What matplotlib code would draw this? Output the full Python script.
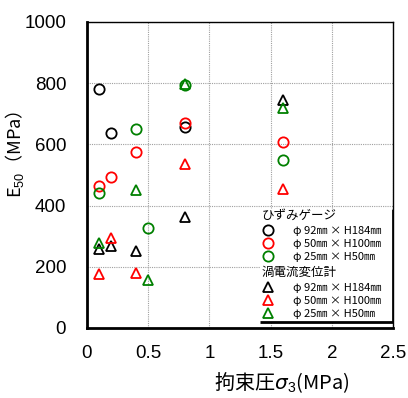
import matplotlib
matplotlib.use("Agg")
import matplotlib.pyplot as plt
from matplotlib.lines import Line2D
from matplotlib.patches import Rectangle

JP = ["Noto Sans CJK JP", "DejaVu Sans"]
plt.rcParams["mathtext.fontset"] = "custom"
plt.rcParams["mathtext.rm"] = "Liberation Sans"
plt.rcParams["mathtext.it"] = "DejaVu Sans:italic"

# Confining pressure (MPa) and E50 (MPa) per specimen size
# strain gauge
gauge_92_x = [0.1, 0.2, 0.8]
gauge_92_y = [780, 636, 656]
gauge_50_x = [0.1, 0.2, 0.4, 0.8, 1.6]
gauge_50_y = [464, 492, 576, 669, 609]
gauge_25_x = [0.1, 0.4, 0.5, 0.8, 1.6]
gauge_25_y = [440, 650, 326, 795, 549]
# eddy-current displacement sensor
eddy_92_x = [0.1, 0.2, 0.4, 0.8, 1.6]
eddy_92_y = [257, 268, 252, 364, 745]
eddy_50_x = [0.1, 0.2, 0.4, 0.8, 1.6]
eddy_50_y = [176, 293, 181, 535, 453]
eddy_25_x = [0.1, 0.4, 0.5, 0.8, 1.6]
eddy_25_y = [277, 450, 157, 797, 718]

labels = ["φ 92㎜ × H184㎜", "φ 50㎜ × H100㎜", "φ 25㎜ × H50㎜"]
colors = ["black", "#ff0000", "#008000"]
x_ticks = [0, 0.5, 1, 1.5, 2, 2.5]
y_ticks = [0, 200, 400, 600, 800, 1000]

fig = plt.figure(figsize=(4.08, 3.98), dpi=100)
ax = fig.add_axes([87 / 408, 1 - 328 / 398, 306 / 408, 306 / 398])

ms = 7.4
mew = 1.3
gauge_series = [(gauge_92_x, gauge_92_y), (gauge_50_x, gauge_50_y), (gauge_25_x, gauge_25_y)]
eddy_series = [(eddy_92_x, eddy_92_y), (eddy_50_x, eddy_50_y), (eddy_25_x, eddy_25_y)]
gauge_handles = []
eddy_handles = []
for (xs, ys), c, lab in zip(gauge_series, colors, labels):
    h, = ax.plot(xs, ys, ls="none", marker="o", ms=ms, mfc="none", mec=c, mew=mew,
                 label=lab, zorder=3)
    gauge_handles.append(h)
for (xs, ys), c, lab in zip(eddy_series, colors, labels):
    h, = ax.plot(xs, ys, ls="none", marker="^", ms=ms, mfc="none", mec=c, mew=mew,
                 label=lab, zorder=3)
    eddy_handles.append(h)

ax.set_xlim(0, 2.5)
ax.set_ylim(0, 1000)
ax.set_xticks(x_ticks)
ax.set_xticklabels([f"{v:g}" for v in x_ticks])
ax.set_yticks(y_ticks)
ax.set_yticklabels([str(v) for v in y_ticks])
ax.tick_params(length=0, labelsize=13.5)
ax.tick_params(axis="y", pad=15)
ax.tick_params(axis="x", pad=12)
for t in ax.get_xticklabels() + ax.get_yticklabels():
    t.set_fontfamily("Liberation Sans")

ax.grid(True, color="#a0a0a0", ls=(0, (1, 1)), lw=0.8)
ax.set_axisbelow(True)
for side in ["left", "bottom"]:
    ax.spines[side].set_linewidth(2)
for side in ["top", "right"]:
    ax.spines[side].set_linewidth(1)

# legend background with a heavy bottom/right edge
x0, x1, y0, y1 = 0.565, 1.0, 0.02, 0.39
ax.add_patch(Rectangle((x0, y0), x1 - x0, y1 - y0, transform=ax.transAxes,
                       facecolor="white", edgecolor="none", zorder=4))
ax.add_line(Line2D([x0, x1, x1], [y0, y0, y1], transform=ax.transAxes,
                   color="black", lw=2, zorder=4.5, solid_capstyle="butt"))

leg_kw = dict(frameon=False, prop={"family": JP, "size": 8},
              handlelength=1.0, handletextpad=1.75, borderpad=0, borderaxespad=0,
              labelspacing=0.3, alignment="left")
leg1 = ax.legend(handles=gauge_handles, loc="upper left", bbox_to_anchor=(0.572, 0.388),
                 title="ひずみゲージ", **leg_kw)
leg2 = ax.legend(handles=eddy_handles, loc="upper left", bbox_to_anchor=(0.572, 0.202),
                 title="渦電流変位計", **leg_kw)
for lg in (leg1, leg2):
    lg.get_title().set_fontfamily(JP)
    lg.get_title().set_fontsize(9)
    lg.set_zorder(5)
ax.add_artist(leg1)

fig.text(15 / 408, 1 - 154 / 398, r"E$_{50}$（MPa）", rotation=90, ha="center",
         va="center", fontsize=13, family=JP)
fig.text(282 / 408, 1 - 383 / 398, r"拘束圧$σ_3$(MPa)", ha="center", va="center",
         fontsize=14.5, family=JP)

fig.savefig("out.png", dpi=100)
